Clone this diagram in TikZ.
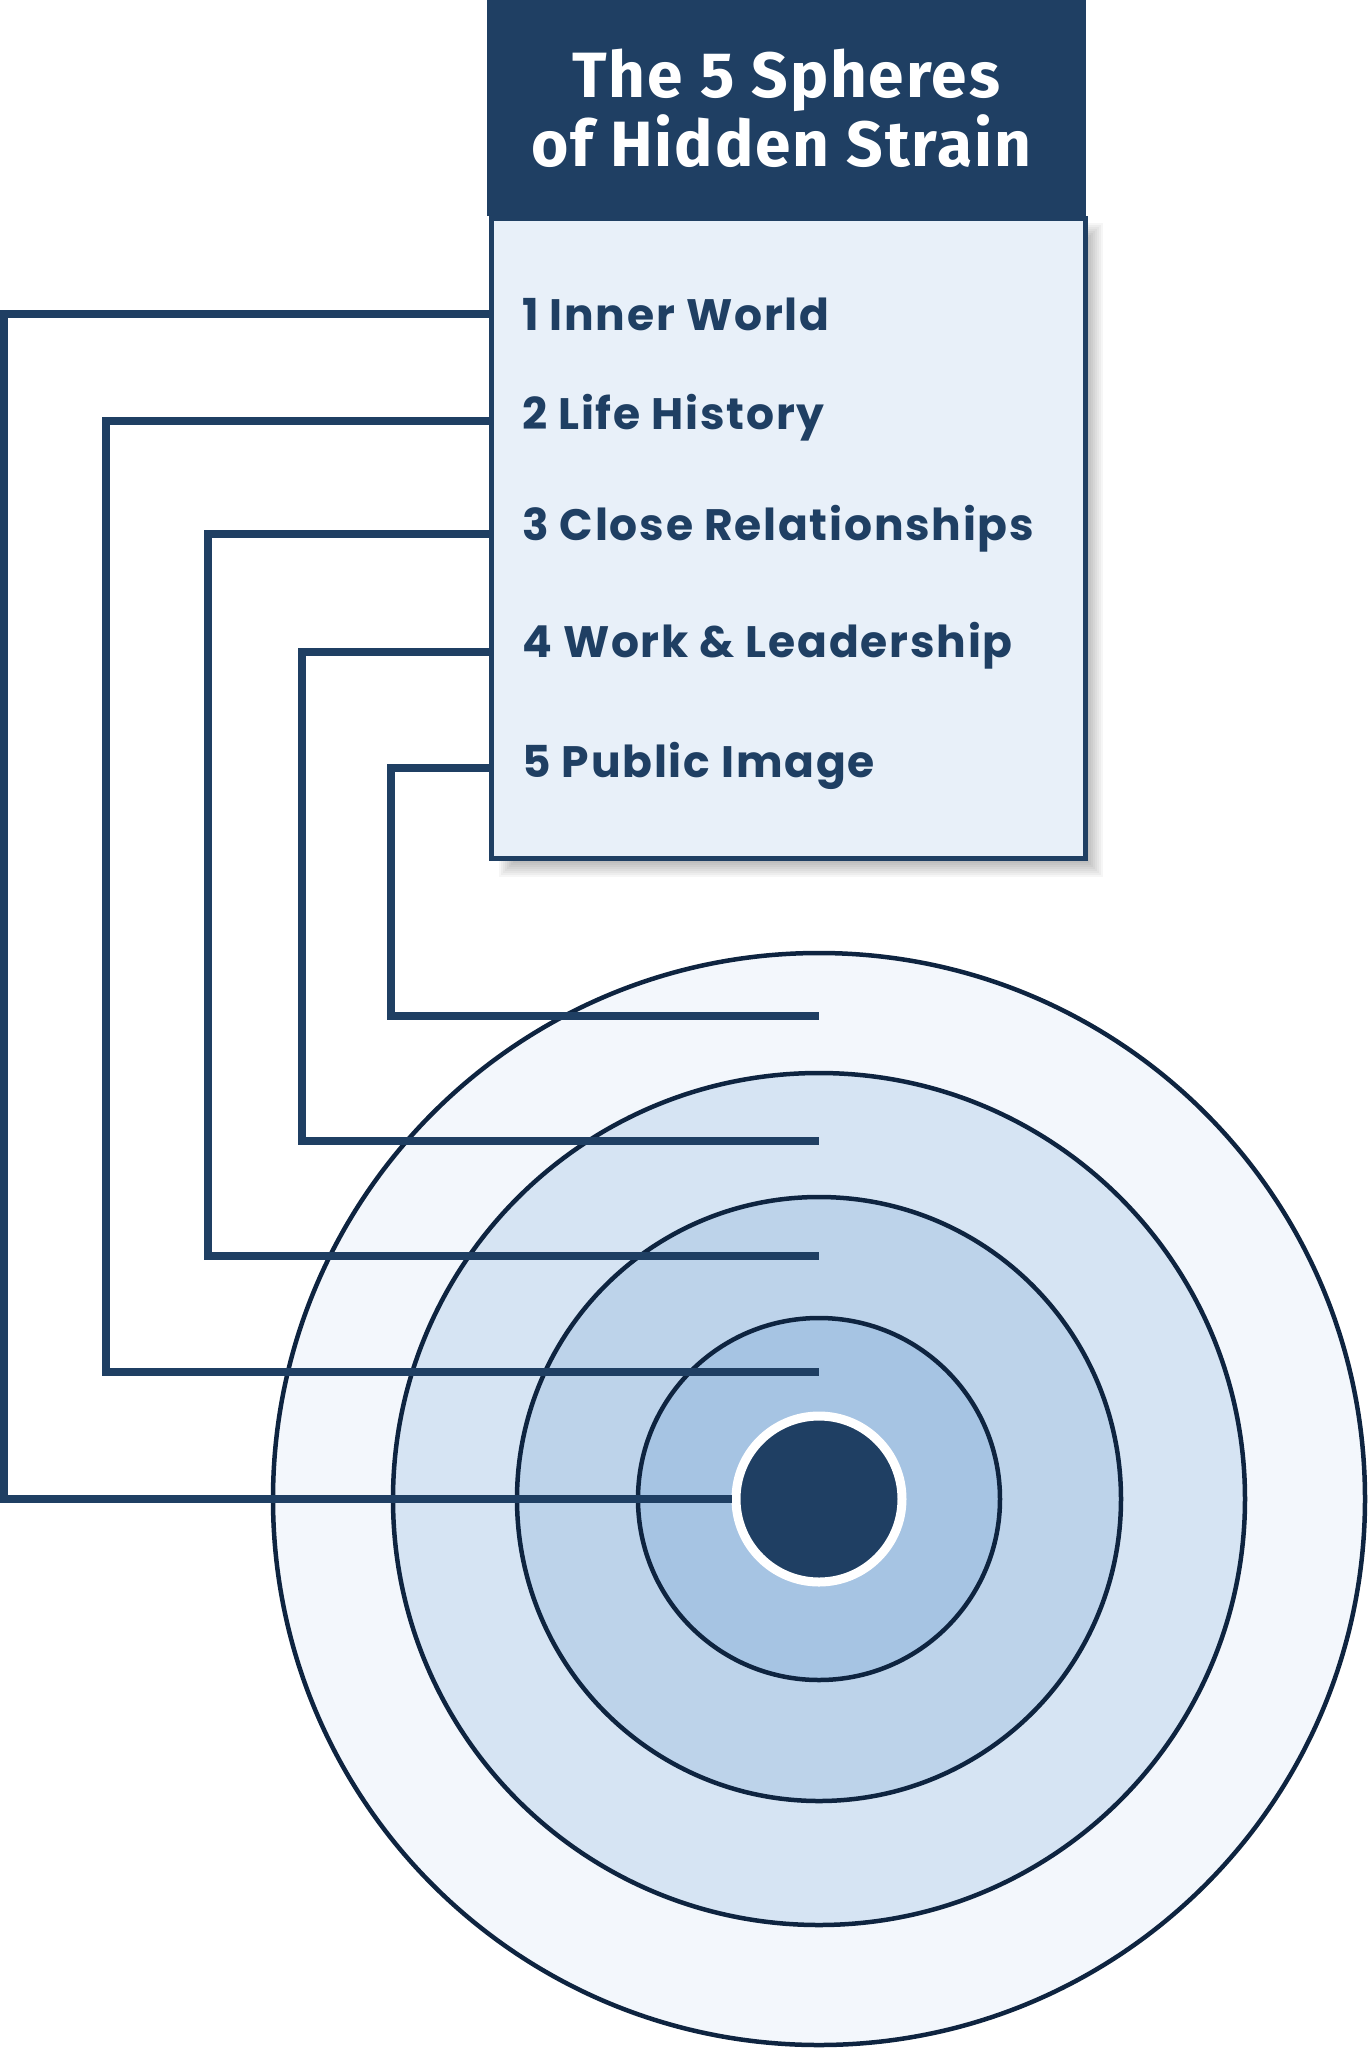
\documentclass[tikz,border=0pt]{standalone}
\usepackage{fontspec}
\newfontfamily\titlefont{Fira Sans}[LetterSpace=3]
\newfontfamily\itemfont{Poppins}[LetterSpace=4]
\usetikzlibrary{positioning}
\definecolor{navy}{HTML}{1F3F63}
\definecolor{ringline}{HTML}{0E2440}
\definecolor{boxfill}{HTML}{E8F0F9}
\definecolor{ringA}{HTML}{F3F7FC}
\definecolor{ringB}{HTML}{D6E4F3}
\definecolor{ringC}{HTML}{BDD3EA}
\definecolor{ringD}{HTML}{A6C4E3}

\begin{document}
\begin{tikzpicture}[x=1pt,y=-1pt,
  ring/.style={circle,draw=ringline,line width=4.5pt,inner sep=0pt},
  item/.style={anchor=west,inner sep=0pt,text=navy,font=\itemfont\bfseries\fontsize{44}{50}\selectfont},
  link/.style={draw=navy,line width=8pt}
]
\useasboundingbox (0,0) rectangle (1368,2048);
% shadow of the list box
\foreach \i in {0,...,7}
  \fill[black,opacity=0.035] (506-7+2*\i,230-7+2*\i) rectangle (1096+7-2*\i,870+7-2*\i);
\node[draw=navy,line width=5pt,fill=boxfill,minimum width=594pt,minimum height=640pt,anchor=north west,inner sep=0pt] (body) at (489,216) {};
\node[fill=navy,minimum width=599pt,minimum height=216pt,anchor=north west,inner sep=0pt,
      text=white,align=center,font=\titlefont\bfseries\fontsize{64}{69}\selectfont] (title) at (486.5,0)
  {The 5 Spheres\\of Hidden Strain\hspace*{10pt}};
% list
\node[item] (t1) at (522,314) {1 Inner World};
\node[item] (t2) at (522,418) {2 Life History};
\node[item] (t3) at (522,529) {3 Close Relationships};
\node[item] (t4) at (522,646) {4 Work \& Leadership};
\node[item] (t5) at (522,766) {5 Public Image};
% the spheres
\node[ring,fill=ringA,minimum size=1092pt] (s5) at (819,1499) {};
\node[ring,fill=ringB,minimum size=852pt] (s4) at (819,1499) {};
\node[ring,fill=ringC,minimum size=604pt] (s3) at (819,1499) {};
\node[ring,fill=ringD,minimum size=362pt] (s2) at (819,1499) {};
\node[circle,fill=navy,draw=white,line width=9pt,minimum size=166pt,inner sep=0pt] (s1) at (819,1499) {};
% connector ends
\coordinate (a1) at (body.west |- 0,314);
\coordinate (a2) at (body.west |- 0,421);
\coordinate (a3) at (body.west |- 0,534);
\coordinate (a4) at (body.west |- 0,652);
\coordinate (a5) at (body.west |- 0,768);
\coordinate (e1) at (s1.west);
\coordinate (e2) at (819,1372);
\coordinate (e3) at (819,1256);
\coordinate (e4) at (819,1141);
\coordinate (e5) at (819,1016);
\draw[link] (a1) -| (4,1499) -- (e1);
\draw[link] (a2) -| (106,1372) -- (e2);
\draw[link] (a3) -| (208,1256) -- (e3);
\draw[link] (a4) -| (302,1141) -- (e4);
\draw[link] (a5) -| (391,1016) -- (e5);
\end{tikzpicture}
\end{document}
